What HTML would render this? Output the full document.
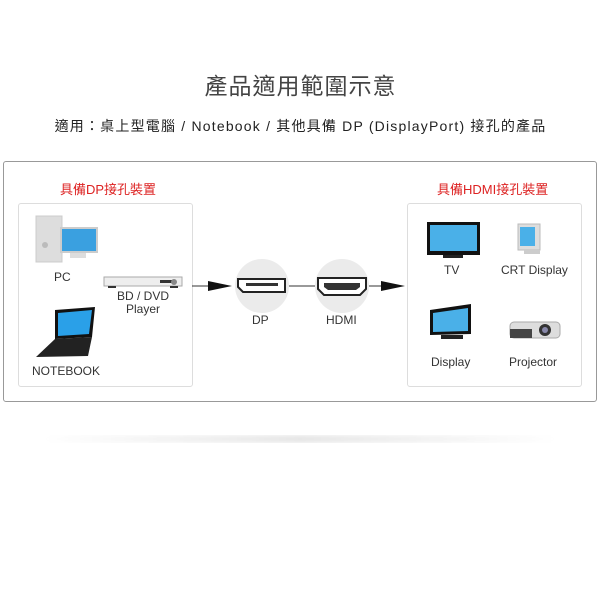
<!DOCTYPE html>
<html><head><meta charset="utf-8"><style>
body{margin:0;width:601px;height:601px;background:#fff;position:relative;overflow:hidden;font-family:"Liberation Sans","Noto Sans CJK TC",sans-serif;color:#333}
.a{position:absolute}
.t{position:absolute;text-align:center;font-size:12px;color:#333;white-space:nowrap}
</style></head><body>
<div class="a" style="left:0;width:601px;top:67px;text-align:center;font-size:23px;color:#444;letter-spacing:1px">產品適用範圍示意</div>
<div class="a" style="left:0;width:601px;top:116px;text-align:center;font-size:14px;color:#222;letter-spacing:1.2px">適用：桌上型電腦 / Notebook / 其他具備 DP (DisplayPort) 接孔的產品</div>
<div class="a" style="left:3px;top:161px;width:592px;height:239px;border:1px solid #999;border-radius:3px"></div>
<div class="a" style="left:18px;top:203px;width:173px;height:182px;border:1px solid #ddd;border-radius:3px"></div>
<div class="a" style="left:407px;top:203px;width:173px;height:182px;border:1px solid #ddd;border-radius:3px"></div>
<div class="t" style="left:60px;top:179px;color:#d22;font-size:13px">具備DP接孔裝置</div>
<div class="t" style="left:437px;top:179px;color:#d22;font-size:13px">具備HDMI接孔裝置</div>
<svg class="a" style="left:0;top:0" width="601" height="601">
<defs><linearGradient id="g" x1="0" x2="1"><stop offset="0" stop-color="#fff"/><stop offset=".5" stop-color="#ddd"/><stop offset="1" stop-color="#fff"/></linearGradient>
<filter id="b"><feGaussianBlur stdDeviation="3"/></filter></defs>
<rect x="40" y="436" width="520" height="6" fill="url(#g)" filter="url(#b)"/>
<rect x="36" y="216" width="26" height="46" fill="#ddd" stroke="#ccc"/>
<circle cx="45" cy="245" r="3" fill="#bbb"/>
<rect x="61" y="228" width="36" height="24" fill="#3aa0e0" stroke="#ccc" stroke-width="2"/>
<rect x="70" y="253" width="16" height="5" fill="#ddd"/>
<rect x="104" y="277" width="78" height="9" fill="#eee" stroke="#aaa"/>
<rect x="160" y="280" width="12" height="3" fill="#333"/><circle cx="174" cy="282" r="3" fill="#888"/>
<rect x="108" y="286" width="8" height="2" fill="#333"/><rect x="170" y="286" width="8" height="2" fill="#333"/>
<polygon points="55,310 95,307 92,337 55,339" fill="#111"/>
<polygon points="58,313 92,310 89,334 58,336" fill="#2aa0e8"/>
<polygon points="55,339 92,337 88,356 36,357" fill="#222"/>
<line x1="192" y1="286" x2="212" y2="286" stroke="#333"/>
<polygon points="208,281 232,286 208,291" fill="#111"/>
<line x1="289" y1="286" x2="315" y2="286" stroke="#333"/>
<line x1="369" y1="286" x2="385" y2="286" stroke="#333"/>
<polygon points="381,281 405,286 381,291" fill="#111"/>
<circle cx="262" cy="286" r="27" fill="#ebebeb"/>
<circle cx="342" cy="286" r="27" fill="#ebebeb"/>
<path d="M238,279 H285 V292 H243 L238,287 Z" fill="#fff" stroke="#222" stroke-width="2"/>
<rect x="246" y="283" width="32" height="3" fill="#333"/>
<path d="M318,278 H366 V289 L360,295 H324 L318,289 Z" fill="#fff" stroke="#222" stroke-width="2"/>
<path d="M324,283 H360 V287 L356,290 H328 L324,287 Z" fill="#333"/>
<rect x="427" y="222" width="53" height="33" fill="#111"/>
<rect x="430" y="225" width="47" height="26" fill="#4ab0e8"/>
<rect x="443" y="255" width="20" height="3" fill="#222"/>
<rect x="518" y="224" width="22" height="26" fill="#ddd" stroke="#bbb"/>
<rect x="520" y="227" width="15" height="19" fill="#4ab0e8"/>
<rect x="524" y="250" width="16" height="4" fill="#ccc"/>
<polygon points="430,310 471,304 471,334 430,335" fill="#111"/>
<polygon points="433,313 468,308 468,331 433,332" fill="#4ab0e8"/>
<rect x="441" y="335" width="22" height="4" fill="#222"/>
<rect x="510" y="322" width="50" height="16" rx="4" fill="#ddd" stroke="#aaa"/>
<rect x="510" y="329" width="22" height="9" fill="#444"/>
<circle cx="545" cy="330" r="6" fill="#333"/><circle cx="545" cy="330" r="3" fill="#88a"/>
</svg>
<div class="t" style="left:54px;top:270px">PC</div>
<div class="t" style="left:110px;top:290px;width:66px;line-height:13px">BD / DVD<br>Player</div>
<div class="t" style="left:32px;top:364px">NOTEBOOK</div>
<div class="t" style="left:252px;top:313px">DP</div>
<div class="t" style="left:326px;top:313px">HDMI</div>
<div class="t" style="left:444px;top:263px">TV</div>
<div class="t" style="left:501px;top:263px">CRT Display</div>
<div class="t" style="left:431px;top:355px">Display</div>
<div class="t" style="left:509px;top:355px">Projector</div>
</body></html>
